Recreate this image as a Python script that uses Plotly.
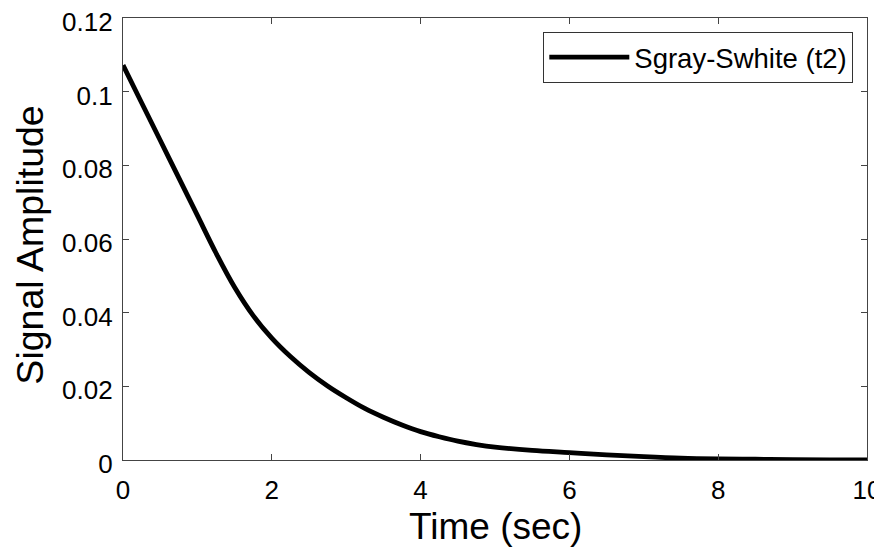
import plotly.graph_objects as go

# Data
time_sec = [0.0, 0.25, 0.5, 0.75, 1.0, 1.25, 1.5, 1.75, 2.0, 2.25, 2.5, 2.75, 3.0, 3.25, 3.5, 3.75, 4.0,
            4.25, 4.5, 4.75, 5.0, 5.5, 6.0, 6.5, 7.0, 7.5, 8.0, 8.5, 9.0, 9.5, 10.0]
signal_amp = [0.1072, 0.0970, 0.0868, 0.0766, 0.0664, 0.0562, 0.0469, 0.0392, 0.0331, 0.0281, 0.0238, 0.0201,
              0.0169, 0.0140, 0.0116, 0.0095, 0.0077, 0.0063, 0.0051, 0.0042, 0.0035, 0.0026, 0.0020, 0.0014,
              0.0009, 0.0005, 0.0003, 0.0002, 0.0001, 0.00005, 0.00002]
series_name = "Sgray-Swhite (t2)"
x_title = "Time (sec)"
y_title = "Signal Amplitude"
x_ticks = [0, 2, 4, 6, 8, 10]
y_ticks = [0, 0.02, 0.04, 0.06, 0.08, 0.1, 0.12]
y_tick_text = ["0", "0.02", "0.04", "0.06", "0.08", "0.1", "0.12"]

FONT = "Liberation Sans, Arial, Helvetica, sans-serif"
AXC = "#444444"

fig = go.Figure()
fig.add_trace(go.Scatter(
    x=time_sec, y=signal_amp, mode="lines", name=series_name,
    line=dict(color="black", width=4.8, shape="spline", smoothing=1.0),
))

axis_common = dict(
    showline=True, linecolor=AXC, linewidth=1.2, mirror="ticks",
    ticks="inside", ticklen=6, tickcolor=AXC, tickwidth=1,
    showgrid=False, zeroline=False, automargin=False,
    ticklabeloverflow="allow",
    tickfont=dict(family=FONT, size=26, color="black"),
)

# page body has an 8px margin, so the figure is sized/positioned to compensate
fig.update_layout(
    width=874, height=542,
    margin=dict(l=115, r=15, t=10, b=90),
    paper_bgcolor="white", plot_bgcolor="white",
    font=dict(family=FONT, color="black"),
    showlegend=True,
    legend=dict(
        x=0.9816, y=0.969, xanchor="right", yanchor="top",
        bordercolor="#333333", borderwidth=1, bgcolor="white",
        font=dict(family=FONT, size=27.5, color="black"),
        itemwidth=80,
    ),
    xaxis=dict(range=[0, 10], tickvals=x_ticks, ticktext=[str(v) for v in x_ticks],
               ticklabelstandoff=7, **axis_common),
    yaxis=dict(range=[0, 0.12], tickvals=y_ticks, ticktext=y_tick_text,
               ticklabelstandoff=4, ticklabelshift=4, **axis_common),
    annotations=[
        dict(text=x_title, xref="paper", yref="paper", x=0.5, y=-0.150, xanchor="center", yanchor="middle",
             showarrow=False, font=dict(family=FONT, size=37, color="black")),
        dict(text=y_title, xref="paper", yref="paper", x=-0.125, y=0.485, xanchor="center", yanchor="middle",
             textangle=-90, showarrow=False, font=dict(family=FONT, size=37.5, color="black")),
    ],
)

fig.write_html("out.html")
